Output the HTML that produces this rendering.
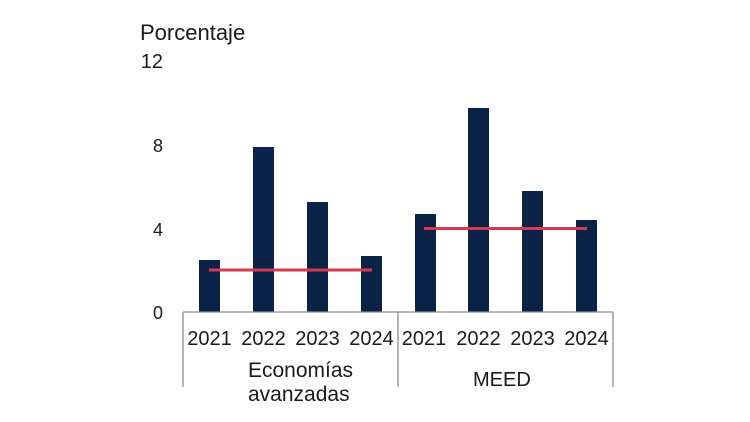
<!DOCTYPE html>
<html>
<head>
<meta charset="utf-8">
<style>
  html, body { margin: 0; padding: 0; background: #ffffff; }
  body { width: 750px; height: 422px; overflow: hidden; }
  svg { display: block; }
  text { font-family: "Liberation Sans", sans-serif; fill: #1a1a1a; }
</style>
</head>
<body>
<svg width="750" height="422" viewBox="0 0 750 422" xmlns="http://www.w3.org/2000/svg">
  <rect width="750" height="422" fill="#ffffff"/>

  <!-- Title and y labels -->
  <text x="140" y="40" font-size="22">Porcentaje</text>
  <text x="163" y="68" font-size="20" text-anchor="end">12</text>
  <text x="163" y="152" font-size="18" text-anchor="end">8</text>
  <text x="163" y="236" font-size="18" text-anchor="end">4</text>
  <text x="163" y="319" font-size="18" text-anchor="end">0</text>

  <!-- Bars: Economías avanzadas -->
  <g fill="#0a2246">
    <rect x="199" y="260" width="21" height="52"/>
    <rect x="253" y="147" width="21" height="165"/>
    <rect x="307" y="202" width="21" height="110"/>
    <rect x="361" y="256" width="21" height="56"/>
    <!-- MEED -->
    <rect x="415" y="214" width="21" height="98"/>
    <rect x="468" y="108" width="21" height="204"/>
    <rect x="522" y="191" width="21" height="121"/>
    <rect x="576" y="220" width="21" height="92"/>
  </g>

  <!-- Red reference lines -->
  <line x1="209" y1="270" x2="372" y2="270" stroke="#d63a52" stroke-width="3"/>
  <line x1="424" y1="228.5" x2="587" y2="228.5" stroke="#d63a52" stroke-width="3"/>

  <!-- Axis box -->
  <g stroke="#8c8c8c" stroke-width="1.3" fill="none">
    <line x1="183" y1="312" x2="613" y2="312"/>
    <line x1="183" y1="312" x2="183" y2="387"/>
    <line x1="398" y1="312" x2="398" y2="387"/>
    <line x1="613" y1="312" x2="613" y2="387"/>
  </g>

  <!-- Year labels -->
  <g font-size="20" text-anchor="middle">
    <text x="209.5" y="345">2021</text>
    <text x="263.5" y="345">2022</text>
    <text x="317.5" y="345">2023</text>
    <text x="371.5" y="345">2024</text>
    <text x="424" y="345">2021</text>
    <text x="478.5" y="345">2022</text>
    <text x="532.5" y="345">2023</text>
    <text x="586.5" y="345">2024</text>
  </g>

  <!-- Group labels -->
  <text x="248" y="377" font-size="21">Economías</text>
  <text x="248" y="401" font-size="21">avanzadas</text>
  <text x="473" y="386" font-size="20">MEED</text>
</svg>
</body>
</html>
